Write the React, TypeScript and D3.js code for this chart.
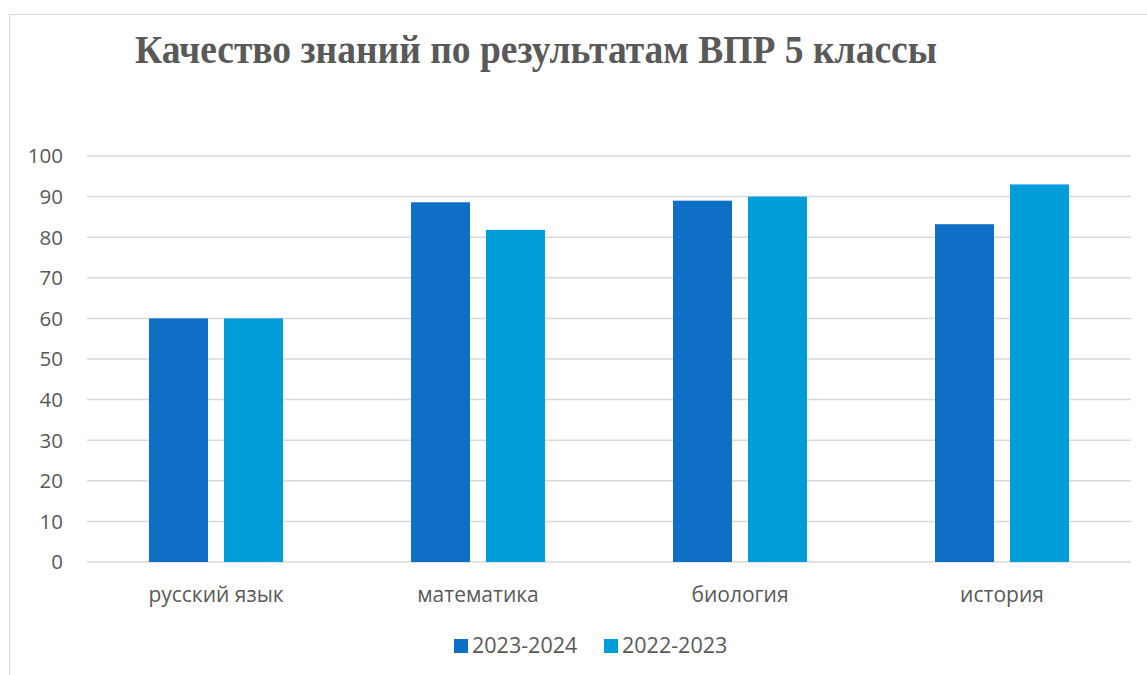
import React, { useEffect, useRef } from 'react';
import * as d3 from 'd3';

const categories = ['русский язык', 'математика', 'биология', 'история'];
const seriesNames = ['2023-2024', '2022-2023'];
const values2324 = [60, 88.6, 89, 83.2];
const values2223 = [60, 81.8, 90, 93];
const colors = ['#0f6fc6', '#009dd9'];
const yTicks = [0, 10, 20, 30, 40, 50, 60, 70, 80, 90, 100];

const W = 1147;
const H = 675;
const FONT = '"Open Sans", "Liberation Sans", sans-serif';

export default function App() {
  const ref = useRef<SVGSVGElement>(null);

  useEffect(() => {
    if (!ref.current) return;
    const svg = d3.select(ref.current);
    svg.selectAll('*').remove();

    const plotLeft = 85;
    const plotRight = 1133;
    const x0 = d3.scaleBand().domain(categories).range([plotLeft, plotRight]).padding(0);
    const groupW = 134;
    const x1 = d3.scaleBand().domain(seriesNames)
      .range([(x0.bandwidth() - groupW) / 2, (x0.bandwidth() + groupW) / 2])
      .paddingInner(0.2133).paddingOuter(0);
    const y = d3.scaleLinear().domain([0, 100]).range([562, 156]);

    // chart border
    svg.append('rect').attr('x', 9.5).attr('y', 14.5).attr('width', W).attr('height', H)
      .attr('fill', 'none').attr('stroke', '#d9d9d9');

    svg.append('text').attr('x', 135).attr('y', 63)
      .attr('font-family', '"Liberation Serif", "Times New Roman", serif')
      .attr('font-weight', 'bold').attr('font-size', 40).attr('fill', '#595959')
      .attr('textLength', 802).attr('lengthAdjust', 'spacingAndGlyphs')
      .text('Качество знаний по результатам ВПР 5 классы');

    // gridlines
    svg.append('g').selectAll('line').data(yTicks).enter().append('line')
      .attr('x1', 87).attr('x2', 1131)
      .attr('y1', (d) => y(d)).attr('y2', (d) => y(d))
      .attr('stroke', '#d9d9d9').attr('stroke-width', 1.5);

    svg.append('g').selectAll('text').data(yTicks).enter().append('text')
      .attr('x', 63).attr('y', (d) => y(d)).attr('dy', '0.36em')
      .attr('text-anchor', 'end').attr('font-family', FONT)
      .attr('font-size', 20.5).attr('fill', '#595959').text((d) => d);

    const series = [values2324, values2223];
    series.forEach((vals, si) => {
      svg.append('g').selectAll('rect').data(vals).enter().append('rect')
        .attr('x', (_, i) => x0(categories[i])! + x1(seriesNames[si])!)
        .attr('y', (d) => y(d))
        .attr('width', x1.bandwidth())
        .attr('height', (d) => y(0) - y(d))
        .attr('fill', colors[si]);
    });

    svg.append('g').selectAll('text').data(categories).enter().append('text')
      .attr('x', (d) => x0(d)! + x0.bandwidth() / 2).attr('y', 602)
      .attr('text-anchor', 'middle').attr('font-family', FONT)
      .attr('font-size', 21).attr('fill', '#595959').text((d) => d);

    // legend
    const legendX = [454, 604];
    seriesNames.forEach((s, i) => {
      svg.append('rect').attr('x', legendX[i]).attr('y', 639).attr('width', 14).attr('height', 14).attr('fill', colors[i]);
      svg.append('text').attr('x', legendX[i] + 18).attr('y', 653)
        .attr('font-family', FONT)
        .attr('font-size', 21.5).attr('fill', '#595959').text(s);
    });
  }, []);

  return (
    <div style={{ position: 'absolute', left: 0, top: 0 }}>
      <svg ref={ref} width={W} height={H} style={{ display: 'block', background: '#fff' }}></svg>
    </div>
  );
}
